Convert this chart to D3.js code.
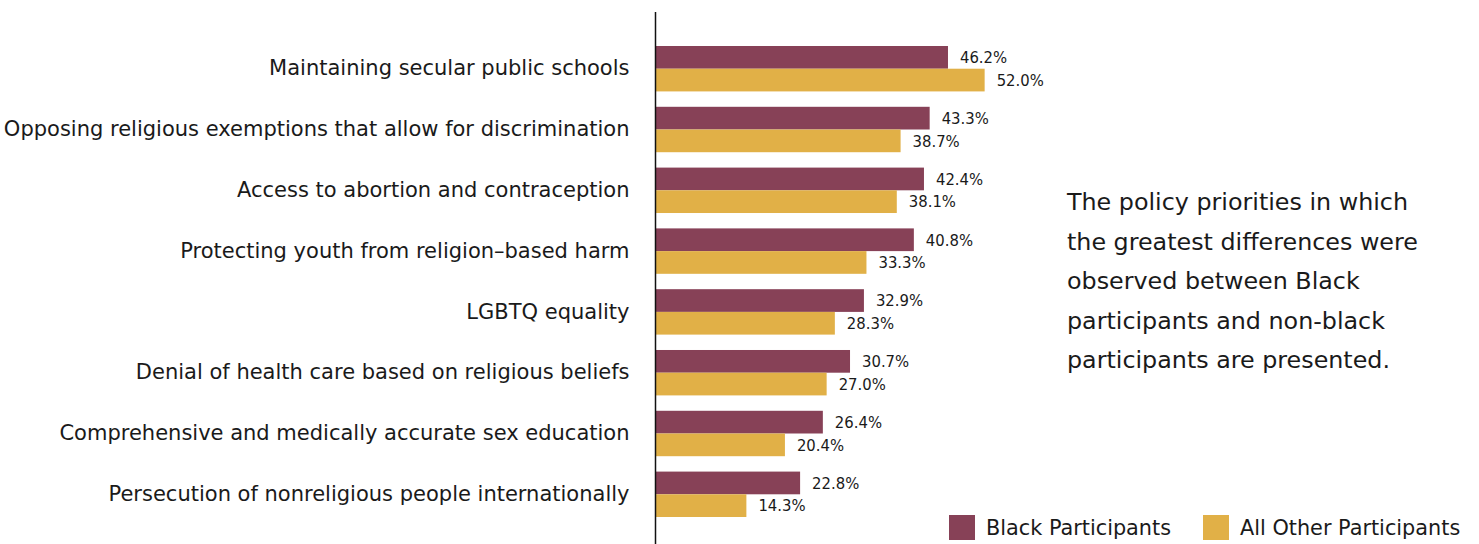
<!DOCTYPE html>
<html>
<head>
<meta charset="utf-8">
<script src="https://cdn.jsdelivr.net/npm/d3@7"></script>
<style>
  html, body { margin: 0; padding: 0; background: #fff; }
  svg { display: block; }
  text { font-family: "DejaVu Sans", sans-serif; fill: #1a1a1a; }
  text.value { font-family: "DejaVu Sans Condensed", "Liberation Sans Narrow", sans-serif; }
</style>
</head>
<body>
<svg id="chart" width="1479" height="544"></svg>
<script>
// Policy priorities: share of participants selecting each issue
const categories = [
  "Maintaining secular public schools",
  "Opposing religious exemptions that allow for discrimination",
  "Access to abortion and contraception",
  "Protecting youth from religion\u2013based harm",
  "LGBTQ equality",
  "Denial of health care based on religious beliefs",
  "Comprehensive and medically accurate sex education",
  "Persecution of nonreligious people internationally"
];
const blackParticipants = [46.2, 43.3, 42.4, 40.8, 32.9, 30.7, 26.4, 22.8];
const otherParticipants = [52.0, 38.7, 38.1, 33.3, 28.3, 27.0, 20.4, 14.3];
const seriesNames = ["Black Participants", "All Other Participants"];
const seriesColors = ["#874157", "#E1B047"];
const note = [
  "The policy priorities in which",
  "the greatest differences were",
  "observed between Black",
  "participants and non-black",
  "participants are presented."
];

const svg = d3.select("#chart");

const x = d3.scaleLinear().domain([0, 100]).range([656, 1288]);
const y = d3.scaleBand().domain(categories).range([46, 517]).paddingInner(0.253).paddingOuter(0);
const ySeries = d3.scaleBand().domain(seriesNames).range([0, y.bandwidth()]).padding(0);
const color = d3.scaleOrdinal().domain(seriesNames).range(seriesColors);

const rows = categories.map((c, i) => ({
  category: c,
  values: [
    { series: seriesNames[0], value: blackParticipants[i] },
    { series: seriesNames[1], value: otherParticipants[i] }
  ]
}));

const groups = svg.append("g").selectAll("g")
  .data(rows)
  .join("g")
  .attr("transform", d => `translate(0,${y(d.category)})`);

groups.selectAll("rect")
  .data(d => d.values)
  .join("rect")
  .attr("x", x(0))
  .attr("y", d => ySeries(d.series))
  .attr("width", d => x(d.value) - x(0))
  .attr("height", ySeries.bandwidth())
  .attr("fill", d => color(d.series));

groups.selectAll("text.value")
  .data(d => d.values)
  .join("text")
  .attr("class", "value")
  .attr("x", d => x(d.value) + 12)
  .attr("y", d => ySeries(d.series) + ySeries.bandwidth() / 2)
  .attr("dy", "0.35em")
  .attr("font-size", 16.5)
  .text(d => d.value.toFixed(1) + "%");

// Category axis: vertical rule with right-aligned labels
const yAxis = d3.axisLeft(y).tickSize(0).tickPadding(26);
const axisG = svg.append("g")
  .attr("transform", `translate(${x(0) - 0.5},0)`)
  .call(yAxis);
axisG.select(".domain").remove();
axisG.selectAll(".tick text")
  .attr("font-size", 21)
  .attr("font-family", "\"DejaVu Sans\", sans-serif")
  .attr("fill", "#1a1a1a");
axisG.append("line")
  .attr("x1", 0).attr("x2", 0)
  .attr("y1", 12).attr("y2", 544)
  .attr("stroke", "#111")
  .attr("stroke-width", 1.5);

// Side note
svg.append("text")
  .attr("x", 1067)
  .attr("y", 210)
  .attr("font-size", 23.8)
  .selectAll("tspan")
  .data(note)
  .join("tspan")
  .attr("x", 1067)
  .attr("dy", (d, i) => i === 0 ? 0 : 39.5)
  .text(d => d);

// Legend
const legendItems = [
  { name: seriesNames[0], x: 949 },
  { name: seriesNames[1], x: 1203 }
];
const legend = svg.append("g").selectAll("g")
  .data(legendItems)
  .join("g")
  .attr("transform", d => `translate(${d.x},515)`);
legend.append("rect")
  .attr("width", 26).attr("height", 25)
  .attr("fill", d => color(d.name));
legend.append("text")
  .attr("x", 37)
  .attr("y", 13)
  .attr("dy", "0.35em")
  .attr("font-size", 20.8)
  .text(d => d.name);
</script>
</body>
</html>
